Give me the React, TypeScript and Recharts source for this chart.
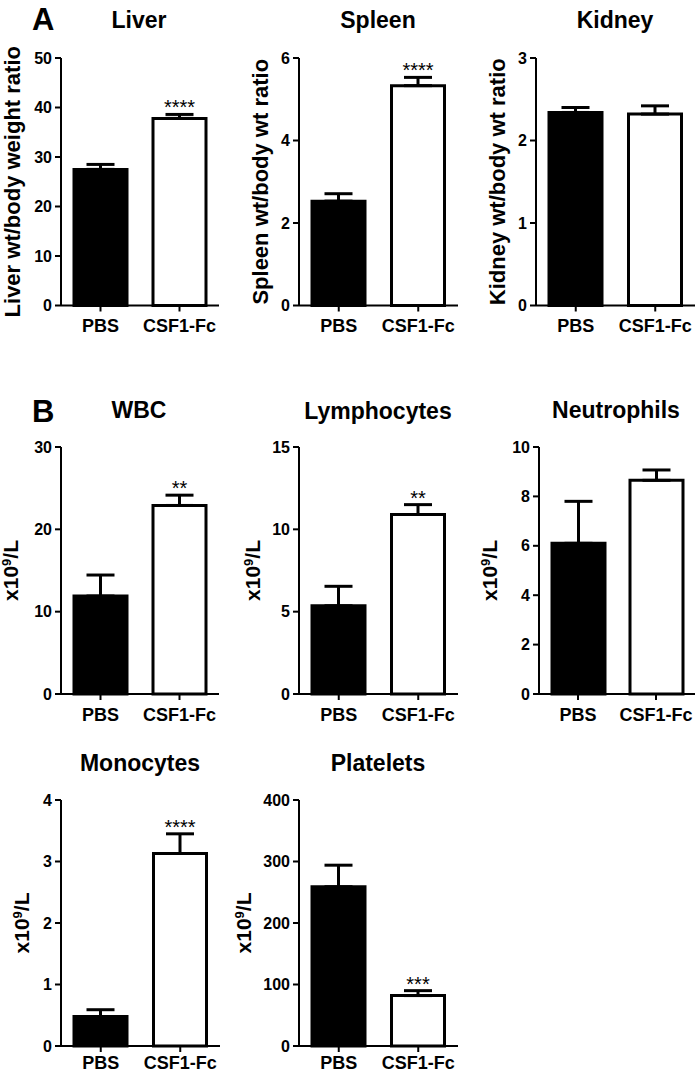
import { BarChart, Bar, XAxis, YAxis, ErrorBar, Cell, LabelList } from 'recharts'

// groups on the x axis
const GROUPS = ['PBS', 'CSF1-Fc']

// mean and SEM per panel
const liverMean = [27.5, 37.8]
const liverSem = [1.0, 0.8]
const spleenMean = [2.53, 5.33]
const spleenSem = [0.18, 0.2]
const kidneyMean = [2.34, 2.32]
const kidneySem = [0.06, 0.1]
const wbcMean = [11.9, 22.9]
const wbcSem = [2.55, 1.25]
const lymphMean = [5.36, 10.9]
const lymphSem = [1.18, 0.6]
const neutroMean = [6.1, 8.65]
const neutroSem = [1.7, 0.42]
const monoMean = [0.48, 3.13]
const monoSem = [0.11, 0.32]
const plateletMean = [259, 82]
const plateletSem = [35, 8]

// y axis ticks
const liverTicks = [0, 10, 20, 30, 40, 50]
const spleenTicks = [0, 2, 4, 6]
const kidneyTicks = [0, 1, 2, 3]
const wbcTicks = [0, 10, 20, 30]
const lymphTicks = [0, 5, 10, 15]
const neutroTicks = [0, 2, 4, 6, 8, 10]
const monoTicks = [0, 1, 2, 3, 4]
const plateletTicks = [0, 100, 200, 300, 400]

// significance marks on CSF1-Fc
const STARS = ['****', '****', '', '**', '**', '', '****', '***']

const FONT = '"Liberation Sans", Arial, Helvetica, sans-serif'
const AXIS_W = 61
const PAD_L = 24

interface PanelDef {
  title: string
  yLabel: string
  mean: number[]
  sem: number[]
  ticks: number[]
  star: string
  axisX: number
  plotW: number
  plotTop: number
  plotH: number
  labelDist: number
  titleX: number
  titleY: number
  xGap: number
}

const panels: PanelDef[] = [
  { title: 'Liver', yLabel: 'Liver wt/body weight ratio', mean: liverMean, sem: liverSem, ticks: liverTicks, star: STARS[0], axisX: 61, plotW: 158, plotTop: 57.5, plotH: 247.5, labelDist: 41, titleX: 139, titleY: 28, xGap: 8 },
  { title: 'Spleen', yLabel: 'Spleen wt/body wt ratio', mean: spleenMean, sem: spleenSem, ticks: spleenTicks, star: STARS[1], axisX: 299, plotW: 159, plotTop: 57.5, plotH: 247.5, labelDist: 31, titleX: 378, titleY: 28, xGap: 8 },
  { title: 'Kidney', yLabel: 'Kidney wt/body wt ratio', mean: kidneyMean, sem: kidneySem, ticks: kidneyTicks, star: STARS[2], axisX: 536, plotW: 159, plotTop: 57.5, plotH: 247.5, labelDist: 31, titleX: 615, titleY: 28, xGap: 8 },
  { title: 'WBC', yLabel: 'x10', mean: wbcMean, sem: wbcSem, ticks: wbcTicks, star: STARS[3], axisX: 61, plotW: 158, plotTop: 447, plotH: 247, labelDist: 43, titleX: 139, titleY: 418, xGap: 8 },
  { title: 'Lymphocytes', yLabel: 'x10', mean: lymphMean, sem: lymphSem, ticks: lymphTicks, star: STARS[4], axisX: 299, plotW: 159, plotTop: 447, plotH: 247, labelDist: 39, titleX: 378, titleY: 419, xGap: 8 },
  { title: 'Neutrophils', yLabel: 'x10', mean: neutroMean, sem: neutroSem, ticks: neutroTicks, star: STARS[5], axisX: 539, plotW: 156, plotTop: 447, plotH: 247, labelDist: 42, titleX: 616, titleY: 418, xGap: 8 },
  { title: 'Monocytes', yLabel: 'x10', mean: monoMean, sem: monoSem, ticks: monoTicks, star: STARS[6], axisX: 61, plotW: 159, plotTop: 800, plotH: 246, labelDist: 32, titleX: 140, titleY: 771, xGap: 4 },
  { title: 'Platelets', yLabel: 'x10', mean: plateletMean, sem: plateletSem, ticks: plateletTicks, star: STARS[7], axisX: 299, plotW: 159, plotTop: 800, plotH: 246, labelDist: 48, titleX: 378, titleY: 771, xGap: 4 },
]

function YLabel(props: any) {
  const vb = props.viewBox || {}
  const bx = vb.x + vb.width - props.dist
  const cy = vb.y + vb.height / 2
  const common = { fill: '#000', fontFamily: FONT, fontWeight: 'bold' as const, fontSize: 21 }
  if (props.text === 'x10') {
    return (
      <text transform={`translate(${bx},${cy}) rotate(-90)`} textAnchor="middle" {...common}>
        x10<tspan dy={-7} fontSize={13}>9</tspan><tspan dy={7}>/L</tspan>
      </text>
    )
  }
  return (
    <text transform={`translate(${bx},${cy}) rotate(-90)`} textAnchor="middle" {...common} fontSize={22}>
      {props.text}
    </text>
  )
}

function Panel({ p }: { p: PanelDef }) {
  const data = GROUPS.map((g, i) => ({
    group: g,
    mean: p.mean[i],
    err: [0, p.sem[i]],
    star: i === 1 ? p.star : '',
  }))
  const top = 26
  const xAxisH = 42
  const starLabel = (props: any) => {
    const vb = props.viewBox || props
    const x = props.x ?? vb.x
    const y = props.y ?? vb.y
    const w = props.width ?? vb.width
    const h = props.height ?? vb.height
    const idx = props.index
    if (!props.value) return null
    const pxPerUnit = h / p.mean[idx]
    const errTop = y - p.sem[idx] * pxPerUnit
    return (
      <text x={x + w / 2} y={errTop} textAnchor="middle" fontFamily={FONT} fontSize={20} fill="#000">
        {props.value}
      </text>
    )
  }
  return (
    <div style={{ position: 'absolute', left: p.axisX - AXIS_W - PAD_L, top: p.plotTop - top }}>
      <BarChart
        width={PAD_L + AXIS_W + p.plotW + 2}
        height={top + p.plotH + xAxisH}
        data={data}
        margin={{ top, right: 2, bottom: 0, left: PAD_L }}
        barSize={53}
      >
        <XAxis
          dataKey="group"
          interval={0}
          height={xAxisH}
          axisLine={{ stroke: '#000', strokeWidth: 2 }}
          tickLine={{ stroke: '#000', strokeWidth: 2 }}
          tickSize={6}
          tickMargin={p.xGap}
          tick={{ fill: '#000', fontSize: 18, fontWeight: 'bold', fontFamily: FONT }}
        />
        <YAxis
          width={AXIS_W}
          domain={[0, p.ticks[p.ticks.length - 1]]}
          ticks={p.ticks}
          interval={0}
          axisLine={{ stroke: '#000', strokeWidth: 2 }}
          tickLine={{ stroke: '#000', strokeWidth: 2 }}
          tickSize={6}
          tickMargin={3}
          tick={{ fill: '#000', fontSize: 16, fontWeight: 'bold', fontFamily: FONT }}
          label={<YLabel text={p.yLabel} dist={p.labelDist} />}
        />
        <Bar dataKey="mean" isAnimationActive={false} stroke="#000" strokeWidth={3}>
          {data.map((d, i) => (
            <Cell key={d.group} fill={i === 0 ? '#000' : '#fff'} />
          ))}
          <ErrorBar dataKey="err" width={14} strokeWidth={3} stroke="#000" isAnimationActive={false} />
          <LabelList dataKey="star" content={starLabel} />
        </Bar>
      </BarChart>
    </div>
  )
}

export default function App() {
  return (
    <div style={{ position: 'absolute', left: 0, top: 0, width: 696, height: 1073, overflow: 'hidden', background: '#fff' }}>
      {panels.map((p) => (
        <Panel key={p.title} p={p} />
      ))}
      <svg width={696} height={1073} style={{ position: 'absolute', left: 0, top: 0, pointerEvents: 'none' }}>
        <text x={32} y={30} fontFamily={FONT} fontWeight="bold" fontSize={31} fill="#000">A</text>
        <text x={32} y={422} fontFamily={FONT} fontWeight="bold" fontSize={31} fill="#000">B</text>
        {panels.map((p) => (
          <text key={p.title} x={p.titleX} y={p.titleY} textAnchor="middle" fontFamily={FONT} fontWeight="bold" fontSize={23} fill="#000">
            {p.title}
          </text>
        ))}
      </svg>
    </div>
  )
}
